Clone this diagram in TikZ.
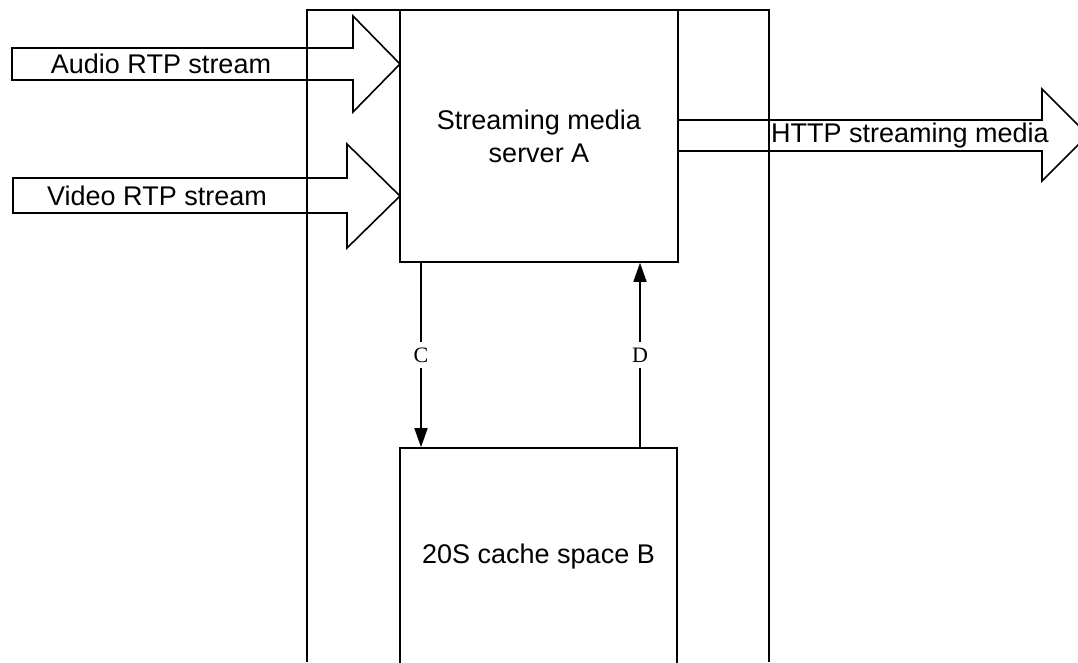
\documentclass[tikz,border=0pt]{standalone}
\usepackage{fontspec}
\setmainfont{Liberation Sans}
\newfontfamily\serifl{Liberation Serif}
\usetikzlibrary{arrows.meta}

\tikzset{
  blockline/.style={line width=1.6pt},
  boxA/.style={draw, line width=1.6pt, align=center, inner sep=0pt},
  flowarrow/.style={line width=1.6pt, -{Triangle[length=19pt, width=13pt]}},
  arrowtxt/.style={inner sep=0pt, font=\fontsize{27}{33}\selectfont},
  lettertxt/.style={fill=white, inner xsep=2pt, inner ysep=6pt, font=\serifl\fontsize{22}{26}\selectfont}
}

\begin{document}
\begin{tikzpicture}[x=1pt, y=-1pt, font=\fontsize{27}{33}\selectfont]

    \useasboundingbox (0,0) rectangle (1078,662);
    \clip (0,0) rectangle (1078,662);

    % Flèches larges (entrées et sortie)
    \draw[blockline] (12,48) -- (353,48) -- (353,16) -- (400,64) -- (353,112) -- (353,80) -- (12,80) -- cycle;
    \draw[blockline] (13,178) -- (347,178) -- (347,144) -- (400,196) -- (347,248) -- (347,213) -- (13,213) -- cycle;
    \draw[blockline] (678,120) -- (1042,120) -- (1042,89) -- (1088,135) -- (1042,181) -- (1042,151) -- (678,151);

    % Cadre extérieur
    \draw[blockline] (307,662) -- (307,10) -- (769,10) -- (769,662);

    % Noeuds
    \node[boxA, minimum width=278pt, minimum height=252pt] (srvA) at (539,136) {Streaming media\\server A};
    \node[boxA, minimum width=277pt, minimum height=218pt] (cacheB) at (538.5,557) {20S cache space B};

    \node[arrowtxt] (audio) at (161,64) {Audio RTP stream};
    \node[arrowtxt] (video) at (157,196) {Video RTP stream};
    \node[arrowtxt, anchor=west] (http) at (771,136) {HTTP streaming media};

    % Flèches C et D
    \draw[flowarrow] (srvA.south -| 421,0) -- (cacheB.north -| 421,0) node[midway, lettertxt] (lblC) {C};
    \draw[flowarrow] (cacheB.north -| 640,0) -- (srvA.south -| 640,0) node[midway, lettertxt] (lblD) {D};

\end{tikzpicture}
\end{document}
